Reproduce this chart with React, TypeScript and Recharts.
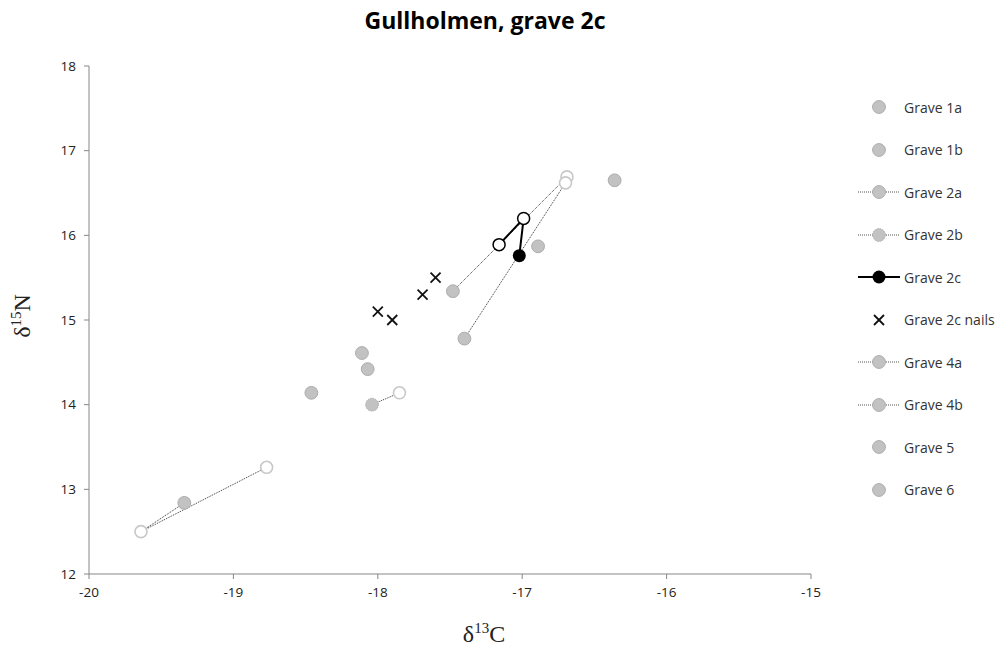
import { Scatter, ScatterChart, XAxis, YAxis } from 'recharts'

type Pt = { d13C: number; d15N: number; tissue: 'bone' | 'tooth' }

const grave1a: Pt[] = [{ d13C: -18.11, d15N: 14.61, tissue: 'bone' }]
const grave1b: Pt[] = [
  { d13C: -18.07, d15N: 14.42, tissue: 'bone' },
  { d13C: -16.89, d15N: 15.87, tissue: 'bone' },
]
const grave2a: Pt[] = [
  { d13C: -19.34, d15N: 12.84, tissue: 'bone' },
  { d13C: -19.64, d15N: 12.5, tissue: 'tooth' },
  { d13C: -18.77, d15N: 13.26, tissue: 'tooth' },
]
const grave2b: Pt[] = [
  { d13C: -18.04, d15N: 14.0, tissue: 'bone' },
  { d13C: -17.85, d15N: 14.14, tissue: 'tooth' },
]
const grave2c: Pt[] = [
  { d13C: -17.16, d15N: 15.89, tissue: 'tooth' },
  { d13C: -16.99, d15N: 16.2, tissue: 'tooth' },
  { d13C: -17.02, d15N: 15.76, tissue: 'bone' },
]
const grave2cNails: Pt[] = [
  { d13C: -17.6, d15N: 15.5, tissue: 'bone' },
  { d13C: -17.69, d15N: 15.3, tissue: 'bone' },
  { d13C: -18.0, d15N: 15.1, tissue: 'bone' },
  { d13C: -17.9, d15N: 15.0, tissue: 'bone' },
]
const grave4a: Pt[] = [
  { d13C: -17.48, d15N: 15.34, tissue: 'bone' },
  { d13C: -16.69, d15N: 16.69, tissue: 'tooth' },
]
const grave4b: Pt[] = [
  { d13C: -17.4, d15N: 14.78, tissue: 'bone' },
  { d13C: -16.7, d15N: 16.62, tissue: 'tooth' },
]
const grave5: Pt[] = [{ d13C: -18.46, d15N: 14.14, tissue: 'bone' }]
const grave6: Pt[] = [{ d13C: -16.36, d15N: 16.65, tissue: 'bone' }]

const X_TICKS = [-20, -19, -18, -17, -16, -15]
const Y_TICKS = [12, 13, 14, 15, 16, 17, 18]

type Kind = 'gray' | 'grayDotted' | 'black' | 'cross'

const SERIES: { name: string; data: Pt[]; kind: Kind; line: 'none' | 'dotted' | 'solid' }[] = [
  { name: 'Grave 1a', data: grave1a, kind: 'gray', line: 'none' },
  { name: 'Grave 1b', data: grave1b, kind: 'gray', line: 'none' },
  { name: 'Grave 2a', data: grave2a, kind: 'gray', line: 'dotted' },
  { name: 'Grave 2b', data: grave2b, kind: 'grayDotted', line: 'dotted' },
  { name: 'Grave 4a', data: grave4a, kind: 'gray', line: 'dotted' },
  { name: 'Grave 4b', data: grave4b, kind: 'gray', line: 'dotted' },
  { name: 'Grave 5', data: grave5, kind: 'gray', line: 'none' },
  { name: 'Grave 6', data: grave6, kind: 'gray', line: 'none' },
  { name: 'Grave 2c', data: grave2c, kind: 'black', line: 'solid' },
  { name: 'Grave 2c nails', data: grave2cNails, kind: 'cross', line: 'none' },
]

const LEGEND_ORDER = [
  'Grave 1a',
  'Grave 1b',
  'Grave 2a',
  'Grave 2b',
  'Grave 2c',
  'Grave 2c nails',
  'Grave 4a',
  'Grave 4b',
  'Grave 5',
  'Grave 6',
]

const FONT = '"Open Sans", sans-serif'
const GRAY_FILL = '#c2c2c2'
const GRAY_EDGE = '#acacac'

function Marker({ cx, cy, kind, tissue }: { cx: number; cy: number; kind: Kind; tissue: string }) {
  if (kind === 'cross') {
    const d = 5
    return (
      <g stroke="#111" strokeWidth={1.8}>
        <line x1={cx - d} y1={cy - d} x2={cx + d} y2={cy + d} />
        <line x1={cx - d} y1={cy + d} x2={cx + d} y2={cy - d} />
      </g>
    )
  }
  if (kind === 'black') {
    return tissue === 'tooth' ? (
      <circle cx={cx} cy={cy} r={6} fill="#fff" stroke="#000" strokeWidth={1.5} />
    ) : (
      <circle cx={cx} cy={cy} r={6.5} fill="#000" />
    )
  }
  if (tissue === 'tooth') {
    return <circle cx={cx} cy={cy} r={6} fill="#fff" stroke="#c8c8c8" strokeWidth={1.6} />
  }
  return (
    <circle
      cx={cx}
      cy={cy}
      r={6.4}
      fill={GRAY_FILL}
      stroke={GRAY_EDGE}
      strokeWidth={1}
      strokeDasharray={kind === 'grayDotted' ? '1.5 1' : undefined}
    />
  )
}

function LegendIcon({ kind, line }: { kind: Kind; line: string }) {
  return (
    <svg width={46} height={20} style={{ display: 'block' }}>
      {line !== 'none' && (
        <line
          x1={2}
          y1={10}
          x2={44}
          y2={10}
          stroke={line === 'solid' ? '#000' : '#555'}
          strokeWidth={line === 'solid' ? 2 : 1}
          strokeDasharray={line === 'dotted' ? '1 1' : undefined}
        />
      )}
      <Marker cx={23} cy={10} kind={kind} tissue="bone" />
    </svg>
  )
}

function AxisTitleX() {
  return (
    <div
      style={{
        position: 'absolute',
        left: 426,
        width: 116,
        top: 620,
        textAlign: 'center',
        fontFamily: '"Liberation Serif", serif',
        fontSize: 24,
        color: '#222',
      }}
    >
      δ<sup style={{ fontSize: 15 }}>13</sup>C
    </div>
  )
}

function AxisTitleY() {
  return (
    <div
      style={{
        position: 'absolute',
        left: -36,
        width: 116,
        top: 302,
        textAlign: 'center',
        transform: 'rotate(-90deg)',
        fontFamily: '"Liberation Serif", serif',
        fontSize: 24,
        color: '#222',
      }}
    >
      δ<sup style={{ fontSize: 15 }}>15</sup>N
    </div>
  )
}

export default function App() {
  return (
    <div style={{ position: 'relative', width: 999, height: 654, background: '#fff' }}>
      <style>{'body{margin:0}'}</style>
      <div
        style={{
          position: 'absolute',
          top: 4,
          left: 0,
          width: 970,
          textAlign: 'center',
          fontFamily: FONT,
          fontWeight: 700,
          fontSize: 23,
          color: '#000',
        }}
      >
        Gullholmen, grave 2c
      </div>
      <ScatterChart width={999} height={654} margin={{ top: 66, right: 188, bottom: 50, left: 39 }}>
        <XAxis
          type="number"
          dataKey="d13C"
          domain={[-20, -15]}
          ticks={X_TICKS}
          allowDataOverflow
          stroke="#878787"
          tickSize={5}
          tickMargin={8}
          height={30}
          tick={{ fill: '#222', fontSize: 13.5, fontFamily: FONT }}
        />
        <YAxis
          type="number"
          dataKey="d15N"
          domain={[12, 18]}
          ticks={Y_TICKS}
          allowDataOverflow
          stroke="#878787"
          tickSize={5}
          tickMargin={8}
          width={50}
          tick={{ fill: '#222', fontSize: 13.5, fontFamily: FONT }}
        />
        {SERIES.map((s) => (
          <Scatter
            key={s.name}
            name={s.name}
            data={s.data}
            isAnimationActive={false}
            line={
              s.line === 'none'
                ? false
                : s.line === 'solid'
                  ? { stroke: '#000', strokeWidth: 2 }
                  : { stroke: '#333', strokeWidth: 1, strokeDasharray: '1 1' }
            }
            lineType="joint"
            shape={(p: any) => (
              <Marker cx={p.cx} cy={p.cy} kind={s.kind} tissue={p.payload?.tissue ?? 'bone'} />
            )}
          />
        ))}
      </ScatterChart>
      <AxisTitleX />
      <AxisTitleY />
      <div style={{ position: 'absolute', left: 856, top: 86, fontFamily: FONT, fontSize: 14, color: '#333' }}>
        {LEGEND_ORDER.map((name) => {
          const s = SERIES.find((x) => x.name === name)!
          return (
            <div key={name} style={{ display: 'flex', alignItems: 'center', height: 42.5 }}>
              <LegendIcon kind={s.kind} line={s.line} />
              <span style={{ marginLeft: 2 }}>{name}</span>
            </div>
          )
        })}
      </div>
    </div>
  )
}
